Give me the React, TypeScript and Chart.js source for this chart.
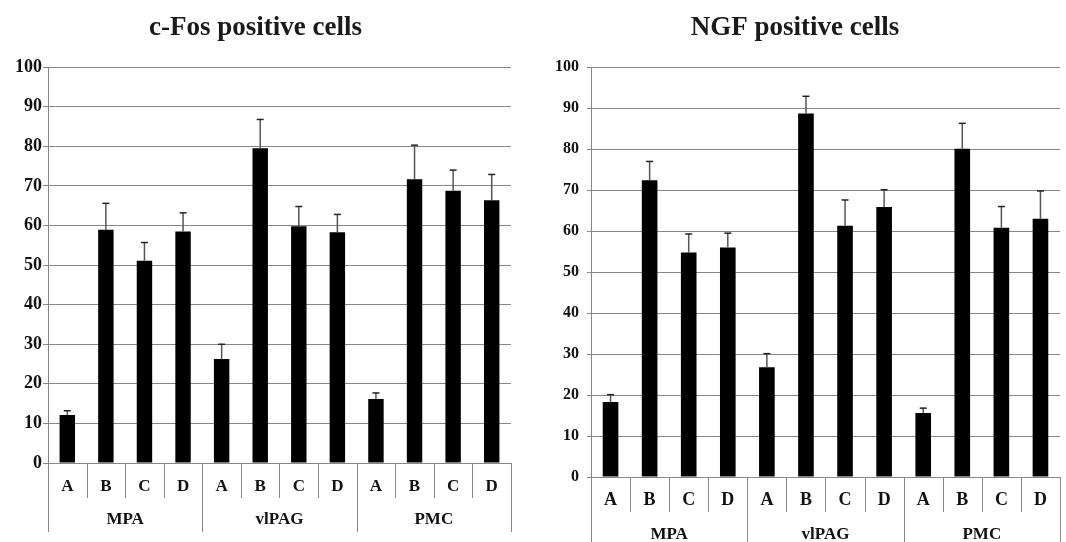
import React, { useEffect, useRef } from "react";
import { Chart, registerables } from "chart.js";

Chart.register(...registerables);

// ---------- data ----------
const subgroups = ["A", "B", "C", "D"];
const regions = ["MPA", "vlPAG", "PMC"];
const categories = regions.flatMap((r) => subgroups.map((s) => `${r} ${s}`));
const yTickValues = [0, 10, 20, 30, 40, 50, 60, 70, 80, 90, 100];

const cfosMeans = [12.1, 58.9, 51.1, 58.5, 26.3, 79.5, 59.8, 58.3, 16.2, 71.7, 68.8, 66.4];
const cfosErrors = [1.1, 6.7, 4.6, 4.7, 3.7, 7.3, 5.0, 4.5, 1.5, 8.6, 5.2, 6.5];

const ngfMeans = [18.3, 72.4, 54.8, 56.0, 26.8, 88.7, 61.3, 65.9, 15.6, 80.1, 60.8, 63.0];
const ngfErrors = [1.8, 4.6, 4.5, 3.5, 3.3, 4.2, 6.3, 4.2, 1.2, 6.2, 5.2, 6.8];

const cfosTitle = "c-Fos positive cells";
const ngfTitle = "NGF positive cells";

// ---------- styles ----------
const FONT = "'Liberation Serif', 'Times New Roman', serif";
const GRID = "#878787";
const TEXT = "#111111";

const errorBarPlugin = {
  id: "errorBars",
  afterDatasetsDraw(chart: any, _args: any, opts: any) {
    const { ctx } = chart;
    const y = chart.scales.y;
    const meta = chart.getDatasetMeta(0);
    const errs: number[] = opts.errors || [];
    const vals: number[] = chart.data.datasets[0].data;
    ctx.save();
    meta.data.forEach((bar: any, i: number) => {
      const top = y.getPixelForValue(vals[i] + errs[i]);
      const base = y.getPixelForValue(vals[i]);
      ctx.strokeStyle = "#555555";
      ctx.lineWidth = 1.5;
      ctx.beginPath();
      ctx.moveTo(bar.x, base);
      ctx.lineTo(bar.x, top);
      ctx.stroke();
      ctx.strokeStyle = "#222222";
      ctx.beginPath();
      ctx.moveTo(bar.x - 3.5, top);
      ctx.lineTo(bar.x + 3.5, top);
      ctx.stroke();
    });
    ctx.restore();
  },
};

const groupAxisPlugin = {
  id: "groupAxis",
  afterDraw(chart: any, _args: any, opts: any) {
    const { ctx, chartArea } = chart;
    const x = chart.scales.x;
    const n = categories.length;
    const px = (i: number) => x.getPixelForValue(i);
    const half = (px(1) - px(0)) / 2;
    const bottom = chartArea.bottom;
    ctx.save();
    ctx.strokeStyle = GRID;
    ctx.lineWidth = 1;
    for (let i = 0; i <= n; i++) {
      const bx = Math.round(i < n ? px(i) - half : px(n - 1) + half) + 0.5;
      const isGroup = i % subgroups.length === 0;
      ctx.beginPath();
      ctx.moveTo(bx, bottom);
      ctx.lineTo(bx, bottom + (isGroup ? opts.groupTick : opts.subTick));
      ctx.stroke();
    }
    ctx.fillStyle = TEXT;
    ctx.textAlign = "center";
    ctx.textBaseline = "middle";
    ctx.font = `bold ${opts.subFont}px ${FONT}`;
    for (let i = 0; i < n; i++) {
      ctx.fillText(subgroups[i % subgroups.length], px(i), bottom + opts.subY);
    }
    ctx.font = `bold ${opts.groupFont}px ${FONT}`;
    regions.forEach((r, g) => {
      const a = px(g * subgroups.length) - half;
      const b = px(g * subgroups.length + subgroups.length - 1) + half;
      ctx.fillText(r, (a + b) / 2, bottom + opts.groupY);
    });
    ctx.restore();
  },
};

type Props = {
  title: string;
  means: number[];
  errors: number[];
  left: number;
  width: number;
  yWidth: number;
  padRight: number;
  padBottom: number;
  tickFont: number;
  tickLen: number;
  tickPad: number;
  axisOpts: any;
};

function BarChart(p: Props) {
  const ref = useRef<HTMLCanvasElement>(null);
  useEffect(() => {
    const chart = new Chart(ref.current as HTMLCanvasElement, {
      type: "bar",
      data: {
        labels: categories,
        datasets: [
          {
            data: p.means,
            backgroundColor: "#000000",
            borderWidth: 0,
            categoryPercentage: 1,
            barPercentage: 0.4,
          },
        ],
      },
      options: {
        responsive: false,
        animation: false,
        layout: { padding: { left: 0, right: p.padRight, top: 0, bottom: p.padBottom } },
        plugins: {
          legend: { display: false },
          tooltip: { enabled: false },
          title: {
            display: true,
            text: p.title,
            color: "#1a1a1a",
            font: { family: FONT, size: 27, weight: "bold" },
            padding: { top: 12, bottom: 22.8 },
          },
          errorBars: { errors: p.errors },
          groupAxis: p.axisOpts,
        } as any,
        scales: {
          x: { type: "category", display: false, offset: true },
          y: {
            min: 0,
            max: 100,
            afterFit: (s: any) => {
              s.width = p.yWidth;
            },
            afterBuildTicks: (s: any) => {
              s.ticks = yTickValues.map((v) => ({ value: v }));
            },
            grid: { color: GRID, lineWidth: 1, tickLength: p.tickLen, drawTicks: true },
            border: { display: true, color: GRID, width: 1 },
            ticks: {
              color: TEXT,
              padding: p.tickPad,
              font: { family: FONT, size: p.tickFont, weight: "bold" },
            },
          },
        },
      },
      plugins: [errorBarPlugin, groupAxisPlugin],
    } as any);
    return () => chart.destroy();
  }, []);
  return (
    <canvas
      ref={ref}
      width={p.width}
      height={542}
      style={{ position: "absolute", left: p.left, top: 0, width: p.width, height: 542 }}
    />
  );
}

export default function App() {
  return (
    <div
      style={{
        position: "fixed",
        left: 0,
        top: 0,
        width: 1066,
        height: 542,
        overflow: "hidden",
        background: "#ffffff",
      }}
    >
      <BarChart
        title={cfosTitle}
        means={cfosMeans}
        errors={cfosErrors}
        left={0}
        width={530}
        yWidth={48}
        padRight={19}
        padBottom={79}
        tickFont={18}
        tickLen={5}
        tickPad={1}
        axisOpts={{ subTick: 35, groupTick: 69, subY: 24, groupY: 57, subFont: 17, groupFont: 17 }}
      />
      <BarChart
        title={ngfTitle}
        means={ngfMeans}
        errors={ngfErrors}
        left={530}
        width={560}
        yWidth={61}
        padRight={30}
        padBottom={65}
        tickFont={16}
        tickLen={4}
        tickPad={8}
        axisOpts={{ subTick: 35, groupTick: 70, subY: 23, groupY: 58, subFont: 18, groupFont: 17 }}
      />
    </div>
  );
}
